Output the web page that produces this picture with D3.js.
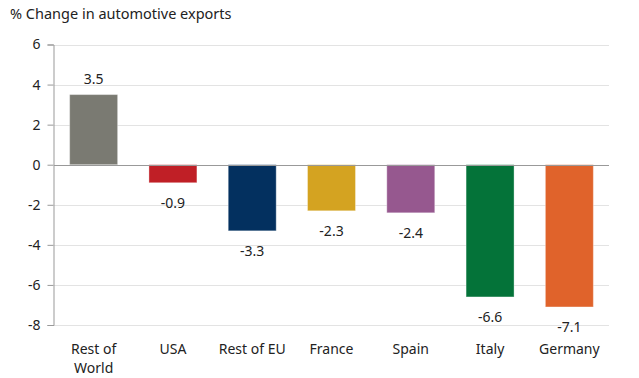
<!DOCTYPE html>
<html><head><meta charset="utf-8">
<script src="https://cdn.jsdelivr.net/npm/d3@7"></script>
<style>body{margin:0;background:#fff}svg{display:block;font-family:"Noto Sans","Open Sans",sans-serif}</style>
</head><body>
<svg id="c" width="639" height="378"></svg>
<script>
const categories = ["Rest of World","USA","Rest of EU","France","Spain","Italy","Germany"];
const labelLines = [["Rest of","World"],["USA"],["Rest of EU"],["France"],["Spain"],["Italy"],["Germany"]];
const values = [3.5,-0.9,-3.3,-2.3,-2.4,-6.6,-7.1];
const colors = ["#7a7a72","#c01f26","#03305f","#d4a321","#96588f","#047339","#e0632b"];
const yTicks = [6,4,2,0,-2,-4,-6,-8];
const title = "% Change in automotive exports";

const svg = d3.select("#c");
const x = d3.scaleBand().domain(categories).range([54,609]).paddingInner(0.395).paddingOuter(0.1975);
const y = d3.scaleLinear().domain([-8,6]).range([325,44.5]);

svg.append("text").attr("x",10).attr("y",19).attr("font-size",14.5).attr("fill","#222").text(title);

// gridlines
svg.append("g").selectAll("line").data(yTicks.filter(t=>t!==0)).join("line")
  .attr("x1",54).attr("x2",609).attr("y1",d=>Math.round(y(d))+0.5).attr("y2",d=>Math.round(y(d))+0.5)
  .attr("stroke","#e3e3e3").attr("stroke-width",1);

// y axis
const yAxis = d3.axisLeft(y).tickValues(yTicks).tickSize(6).tickPadding(7).tickFormat(d3.format("d"));
const ga = svg.append("g").attr("transform","translate(53.5,0)").call(yAxis);
ga.select(".domain").attr("stroke","#999");
ga.selectAll(".tick line").attr("stroke","#999");
ga.selectAll(".tick text").attr("font-size",14).attr("fill","#222").attr("font-family","Noto Sans, Open Sans, sans-serif").text(d=>d<0?"-"+Math.abs(d):d);

// bars
svg.append("g").selectAll("rect").data(values).join("rect")
  .attr("x",(d,i)=>x(categories[i]))
  .attr("width",x.bandwidth())
  .attr("y",d=>y(Math.max(0,d)))
  .attr("height",d=>Math.abs(y(d)-y(0)))
  .attr("fill",(d,i)=>colors[i])
  .attr("stroke","rgba(255,255,255,0.35)").attr("stroke-width",1);

// zero line
svg.append("line").attr("x1",54).attr("x2",609).attr("y1",Math.round(y(0))+0.5).attr("y2",Math.round(y(0))+0.5)
  .attr("stroke","#999").attr("stroke-width",1);

// value labels
svg.append("g").selectAll("text").data(values).join("text")
  .attr("x",(d,i)=>x(categories[i])+x.bandwidth()/2)
  .attr("y",d=>d>=0? y(d)-11 : y(d)+25)
  .attr("text-anchor","middle").attr("font-size",14).attr("fill","#222")
  .text(d=>d<0?"-"+Math.abs(d).toFixed(1):d.toFixed(1));

// category labels
const cg = svg.append("g").selectAll("text").data(categories).join("text")
  .attr("x",d=>x(d)+x.bandwidth()/2).attr("y",354)
  .attr("text-anchor","middle").attr("font-size",14).attr("fill","#222");
cg.each(function(d,i){
  const t = d3.select(this);
  labelLines[i].forEach((l,j)=>t.append("tspan").attr("x",x(d)+x.bandwidth()/2).attr("dy",j?19:0).text(l));
});
</script>
</body></html>
